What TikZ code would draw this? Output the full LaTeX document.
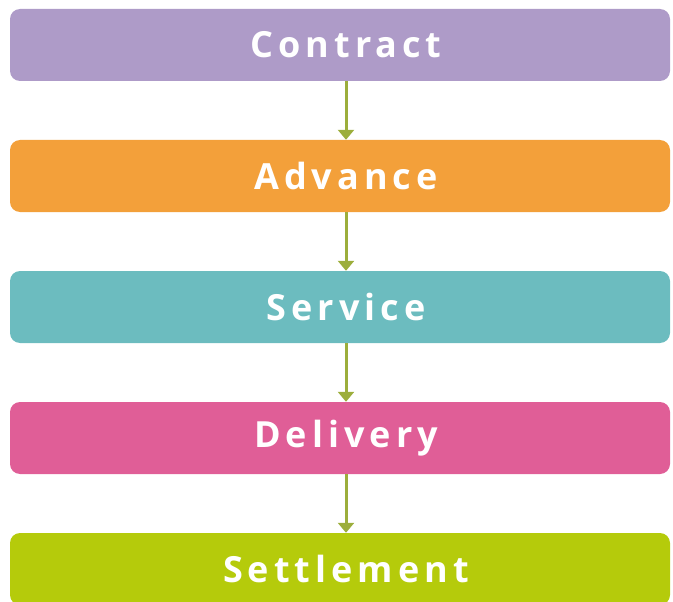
\documentclass[tikz,border=0pt]{standalone}
\usepackage{fontspec}
\setmainfont{Open Sans}
\usetikzlibrary{arrows.meta}
\definecolor{cContract}{HTML}{AE9BC8}
\definecolor{cAdvance}{HTML}{F3A03A}
\definecolor{cService}{HTML}{6CBCBF}
\definecolor{cDelivery}{HTML}{E05E97}
\definecolor{cSettle}{HTML}{B5CB0B}
\definecolor{cArrow}{HTML}{9CAE3C}
\begin{document}
\begin{tikzpicture}[x=1pt,y=-1pt,
  stage/.style={rounded corners=10pt, draw=none, minimum width=660pt, minimum height=72pt,
    inner sep=0pt, text=white, execute at begin node={\hspace*{12pt}},
    font=\fontsize{36}{38}\selectfont\bfseries\addfontfeature{LetterSpace=14}},
  flow/.style={draw=cArrow, line width=3pt, -{Triangle[width=16pt,length=10pt]}}]
\useasboundingbox (0,0) rectangle (673,602);
\node[stage, fill=cContract] (contract) at (340,45) {Contract};
\node[stage, fill=cAdvance] (advance) at (340,176) {Advance};
\node[stage, fill=cService] (service) at (340,307) {Service};
\node[stage, fill=cDelivery] (delivery) at (340,438) {Delivery};
\node[stage, fill=cSettle] (settle) at (340,569) {Settlement};
\draw[flow] (contract.south -| 346,0) -- (advance.north -| 346,0);
\draw[flow] (advance.south -| 346,0) -- (service.north -| 346,0);
\draw[flow] (service.south -| 346,0) -- (delivery.north -| 346,0);
\draw[flow] (delivery.south -| 346,0) -- (settle.north -| 346,0);
\end{tikzpicture}
\end{document}
